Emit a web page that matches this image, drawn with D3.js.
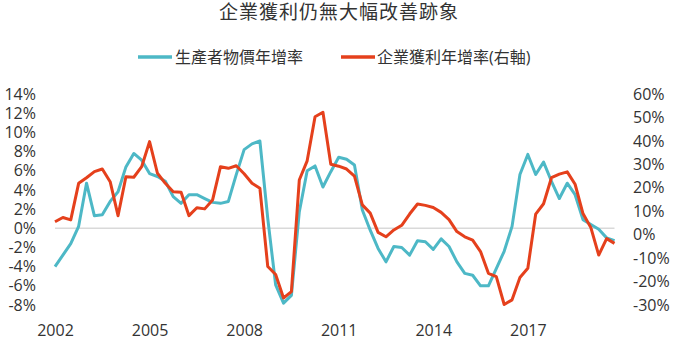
<!DOCTYPE html>
<html>
<head>
<meta charset="utf-8">
<script src="https://cdn.jsdelivr.net/npm/d3@7"></script>
<style>
  body { margin: 0; background: #fff; }
  svg text { font-family: "Open Sans", "Noto Sans CJK TC", sans-serif; fill: #333; }
  .axis path, .axis line { display: none; }
</style>
</head>
<body>
<div id="main"></div>
<script>
// quarterly series, 2002Q1 .. 2019Q4
const ppi = [-4.0, -2.8, -1.6, 0.2, 4.7, 1.3, 1.4, 2.8, 3.8, 6.4, 7.8, 7.1,
  5.7, 5.4, 4.9, 3.3, 2.6, 3.5, 3.5, 3.1, 2.7, 2.6, 2.8, 5.6,
  8.2, 8.8, 9.1, 1.0, -5.9, -7.8, -7.0, 1.7, 6.0, 6.5, 4.3, 5.9,
  7.4, 7.2, 6.6, 1.9, -0.2, -2.1, -3.5, -1.9, -2.0, -2.8, -1.3, -1.4,
  -2.2, -1.1, -1.9, -3.5, -4.7, -4.9, -6.0, -6.0, -4.2, -2.4, 0.2, 5.6,
  7.7, 5.6, 6.9, 4.9, 3.1, 4.7, 3.5, 0.9, 0.4, -0.1, -1.0, -1.3];
const profit = [5.5, 7.3, 6.3, 21.9, 24.3, 26.9, 28, 22.6, 8.1, 24.7, 24.5, 29,
  39.7, 26.2, 21.9, 18.3, 18.1, 8.1, 11.5, 11.0, 14.8, 29, 28.3, 29.4,
  26, 21.9, 19.8, -13.6, -17, -27, -24.3, 23.3, 31.5, 50.3, 52.2, 30,
  29.2, 28, 25, 12.7, 9.2, 1.0, -0.9, 2.0, 4.0, 8.8, 13.1, 12.5,
  11.6, 9.5, 6.4, 1.3, -0.9, -2.3, -7.2, -16.5, -17.9, -29.8, -27.8, -18.3,
  -14.3, 8.8, 13.2, 24.3, 25.8, 26.8, 21.5, 9, 3, -8.7, -1.7, -3.7];
const yearTicks = [0, 12, 24, 36, 48, 60];
const yearLabels = ['2002', '2005', '2008', '2011', '2014', '2017'];
const leftTicks = [14, 12, 10, 8, 6, 4, 2, 0, -2, -4, -6, -8];
const rightTicks = [60, 50, 40, 30, 20, 10, 0, -10, -20, -30];
const seriesNames = ['生產者物價年增率', '企業獲利年增率(右軸)'];
const colors = ['#4db8c6', '#e5401c'];

function main() {
  const svg = d3.select('#main').append('svg')
    .attr('width', 680)
    .attr('height', 340);

  const x = d3.scaleLinear().domain([0, ppi.length - 1]).range([55, 614.5]);
  const yL = d3.scaleLinear().domain([-8, 14]).range([305, 94]);
  const yR = d3.scaleLinear().domain([-30, 60]).range([305, 94]);

  // title
  svg.append('text')
    .attr('x', 339).attr('y', 19)
    .attr('text-anchor', 'middle')
    .style('font-size', '19px')
    .style('letter-spacing', '1px')
    .text('企業獲利仍無大幅改善跡象');

  // legend
  const legend = [[138, 175], [341, 377]];
  legend.forEach((p, i) => {
    svg.append('line')
      .attr('x1', p[0]).attr('x2', p[0] + 34)
      .attr('y1', 57).attr('y2', 57)
      .attr('stroke', colors[i]).attr('stroke-width', 3.5);
    svg.append('text')
      .attr('x', p[1]).attr('y', 63)
      .style('font-size', '16px')
      .text(seriesNames[i]);
  });

  // zero line
  svg.append('line')
    .attr('x1', x(0)).attr('x2', x(ppi.length - 1))
    .attr('y1', yL(0)).attr('y2', yL(0))
    .attr('stroke', '#d9d9d9').attr('stroke-width', 1.5);

  // axes
  const axL = svg.append('g').attr('class', 'axis')
    .attr('transform', 'translate(36,0)')
    .call(d3.axisLeft(yL).tickValues(leftTicks).tickSize(0).tickPadding(0)
      .tickFormat(d => `${d}%`));
  const axR = svg.append('g').attr('class', 'axis')
    .attr('transform', 'translate(633,0)')
    .call(d3.axisRight(yR).tickValues(rightTicks).tickSize(0).tickPadding(0)
      .tickFormat(d => `${d}%`));
  const axB = svg.append('g').attr('class', 'axis')
    .attr('transform', 'translate(0,320)')
    .call(d3.axisBottom(x).tickValues(yearTicks).tickSize(0).tickPadding(0)
      .tickFormat((d, i) => yearLabels[i]));
  [axL, axR, axB].forEach(a => a.selectAll('text')
    .style('font-size', '16px')
    .attr('fill', '#333'));
  axB.selectAll('text').attr('dy', '1em');

  // lines
  const lineL = d3.line().x((d, i) => x(i)).y(d => yL(d));
  const lineR = d3.line().x((d, i) => x(i)).y(d => yR(d));
  svg.append('path')
    .attr('d', lineL(ppi))
    .attr('fill', 'none').attr('stroke', colors[0])
    .attr('stroke-width', 3).attr('stroke-linejoin', 'round');
  svg.append('path')
    .attr('d', lineR(profit))
    .attr('fill', 'none').attr('stroke', colors[1])
    .attr('stroke-width', 3).attr('stroke-linejoin', 'round');
}
document.addEventListener('DOMContentLoaded', main);
</script>
</body>
</html>
